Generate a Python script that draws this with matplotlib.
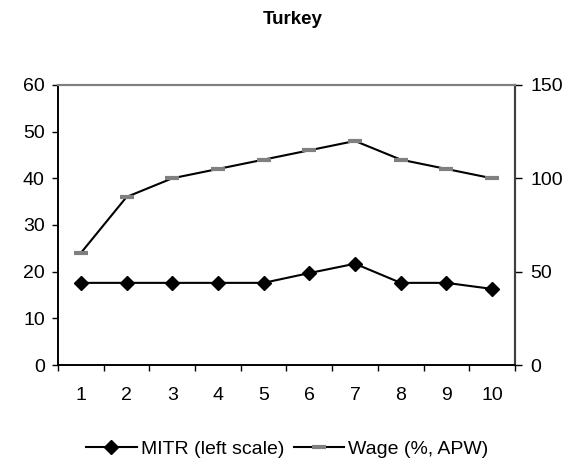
import numpy as np
import matplotlib
matplotlib.use("Agg")
import matplotlib.pyplot as plt

plt.rcParams['font.family'] = ['Liberation Sans', 'DejaVu Sans']

years = [1, 2, 3, 4, 5, 6, 7, 8, 9, 10]
mitr = [17.6, 17.6, 17.6, 17.6, 17.6, 19.7, 21.7, 17.6, 17.6, 16.3]
wage = [60, 90, 100, 105, 110, 115, 120, 110, 105, 100]
left_ticks = [0, 10, 20, 30, 40, 50, 60]
right_ticks = [0, 50, 100, 150]

fig = plt.figure(figsize=(5.71, 4.66), dpi=100)
ax = fig.add_axes([0.1016, 0.2167, 0.8003, 0.601])
ax2 = ax.twinx()

l1, = ax.plot(years, mitr, color='black', linewidth=1.5, marker='D', markersize=7.5,
              markerfacecolor='black', markeredgecolor='black', label='MITR (left scale)')
l2, = ax2.plot(years, wage, color='black', linewidth=1.5, marker='_', markersize=10.5,
               markeredgewidth=3, markeredgecolor='#808080', label='Wage (%, APW)')

ax.set_xlim(0.5, 10.5)
ax.set_ylim(0, 60)
ax2.set_ylim(0, 150)
ax.set_yticks(left_ticks)
ax2.set_yticks(right_ticks)

# category labels sit between the tick marks
ax.set_xticks(np.arange(0.5, 11, 1))
ax.set_xticklabels([])
ax.set_xticks(years, minor=True)
ax.set_xticklabels([str(y) for y in years], minor=True)
ax.tick_params(axis='x', which='major', direction='out', length=4.5, width=1)
ax.tick_params(axis='x', which='minor', length=0, pad=16, labelsize=14)
ax.tick_params(axis='y', direction='out', length=4.5, width=1, labelsize=14, pad=5)
ax2.tick_params(axis='y', direction='out', length=5, width=1, labelsize=14, pad=6)

for a in (ax, ax2):
    a.spines['top'].set_color('#808080')
    a.spines['top'].set_linewidth(1.5)
    a.spines['left'].set_linewidth(1.2)
    a.spines['bottom'].set_linewidth(1.2)
    a.spines['right'].set_color('#404040')
    a.spines['right'].set_linewidth(1.5)

fig.text(0.513, 1 - 24 / 466, 'Turkey', ha='center', va='baseline', fontsize=13.5,
         fontweight='bold')

fig.legend(handles=[l1, l2], loc='center', bbox_to_anchor=(0.503, 0.036), ncol=2,
           frameon=False, fontsize=14, handlelength=2.6, columnspacing=0.5,
           handletextpad=0.2, borderpad=0.1)

fig.savefig('out.png', dpi=100)
